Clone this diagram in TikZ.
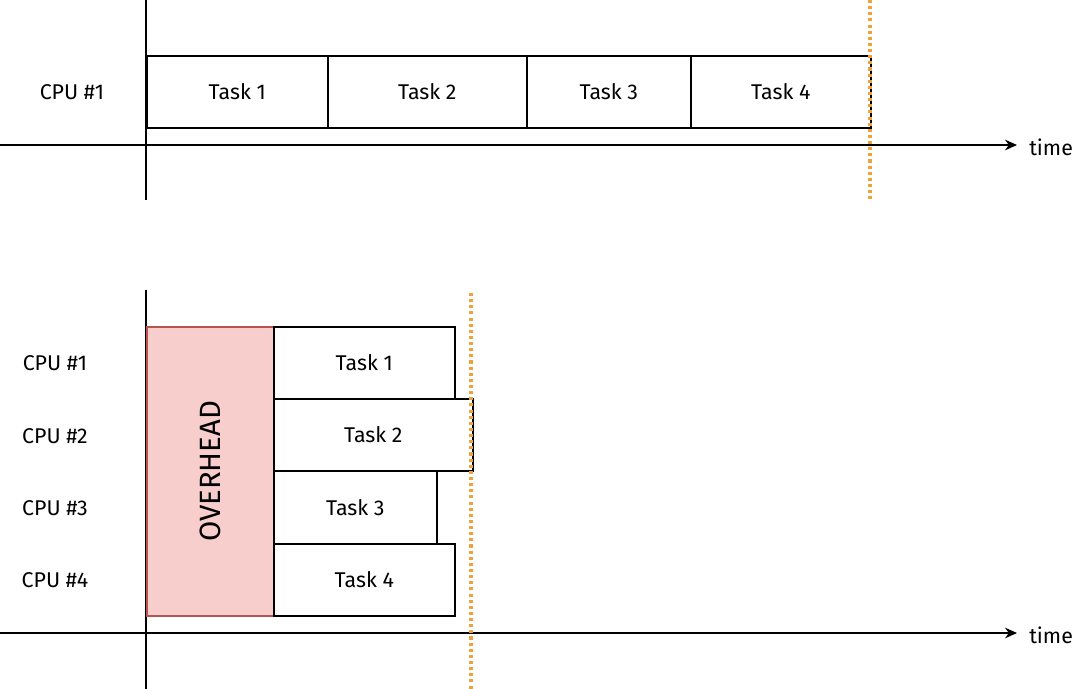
\documentclass[tikz,border=0pt]{standalone}
\usepackage{fontspec}
\setmainfont{Fira Sans}
\usetikzlibrary{arrows.meta}
\definecolor{ovfill}{HTML}{F8CECC}
\definecolor{ovdraw}{HTML}{B85450}
\definecolor{deadline}{HTML}{EDA23A}
\tikzset{
  px/.style={x=0.75pt,y=-0.75pt},
  taskbox/.style={draw=black,line width=1.2pt,fill=white,inner sep=0pt,font=\fontsize{16}{18}\selectfont},
  axis/.style={draw=black,line width=1.2pt},
  timearrow/.style={axis,-{Stealth[length=9pt,width=8pt]}},
  deadlinestyle/.style={draw=deadline,line width=2.3pt,dash pattern=on 2.3pt off 2.3pt},
  lbl/.style={font=\fontsize{16}{18}\selectfont,inner sep=0pt},
}
\begin{document}
\begin{tikzpicture}[px]
\useasboundingbox (0,0) rectangle (1075,689);
% ---------- top ----------
\coordinate (tvA) at (146,0);
\coordinate (tvB) at (146,200);
\draw[axis] (tvA) -- (tvB);
\coordinate (thA) at (0,145);
\coordinate (thB) at (1017,145);
\draw[timearrow] (thA) -- (thB);
\node[lbl,anchor=west] (ttime) at (1029,147) {time};
\node[lbl] (tcpu) at (72,92) {CPU \#1};
\node[taskbox,minimum width=181*0.75pt,minimum height=72*0.75pt,anchor=north west] (t1) at (146,55) {Task 1};
\node[taskbox,minimum width=199*0.75pt,minimum height=72*0.75pt,anchor=north west] (t2) at (327,55) {Task 2};
\node[taskbox,minimum width=164*0.75pt,minimum height=72*0.75pt,anchor=north west] (t3) at (526,55) {Task 3};
\node[taskbox,minimum width=180*0.75pt,minimum height=72*0.75pt,anchor=north west] (t4) at (690,55) {Task 4};
\coordinate (tdA) at (870,0);
\coordinate (tdB) at (870,199);
\draw[deadlinestyle] (tdA) -- (tdB);
% ---------- bottom ----------
\coordinate (bvA) at (146,290);
\coordinate (bvB) at (146,689);
\draw[axis] (bvA) -- (bvB);
\coordinate (bhA) at (0,633);
\coordinate (bhB) at (1017,633);
\draw[timearrow] (bhA) -- (bhB);
\node[lbl,anchor=west] (btime) at (1029,635) {time};
\node[draw=ovdraw,fill=ovfill,line width=1.2pt,minimum width=127*0.75pt,minimum height=289*0.75pt,anchor=north west,inner sep=0pt] (ov) at (146,326) {};
\node[inner sep=0pt,font=\fontsize{22}{24}\selectfont,rotate=90] (ovl) at (ov.center) {OVERHEAD};
\node[taskbox,minimum width=181*0.75pt,minimum height=72*0.75pt,anchor=north west] (b1) at (273,326) {Task 1};
\node[taskbox,minimum width=199*0.75pt,minimum height=72*0.75pt,anchor=north west] (b2) at (273,398) {Task 2};
\node[taskbox,minimum width=163*0.75pt,minimum height=73*0.75pt,anchor=north west] (b3) at (273,470) {Task 3};
\node[taskbox,minimum width=181*0.75pt,minimum height=72*0.75pt,anchor=north west] (b4) at (273,543) {Task 4};
\node[lbl] (c1) at (55,363) {CPU \#1};
\node[lbl] (c2) at (55,436) {CPU \#2};
\node[lbl] (c3) at (55,508) {CPU \#3};
\node[lbl] (c4) at (55,580) {CPU \#4};
\coordinate (bdA) at (471,293);
\coordinate (bdB) at (471,689);
\draw[deadlinestyle] (bdA) -- (bdB);
\end{tikzpicture}
\end{document}
